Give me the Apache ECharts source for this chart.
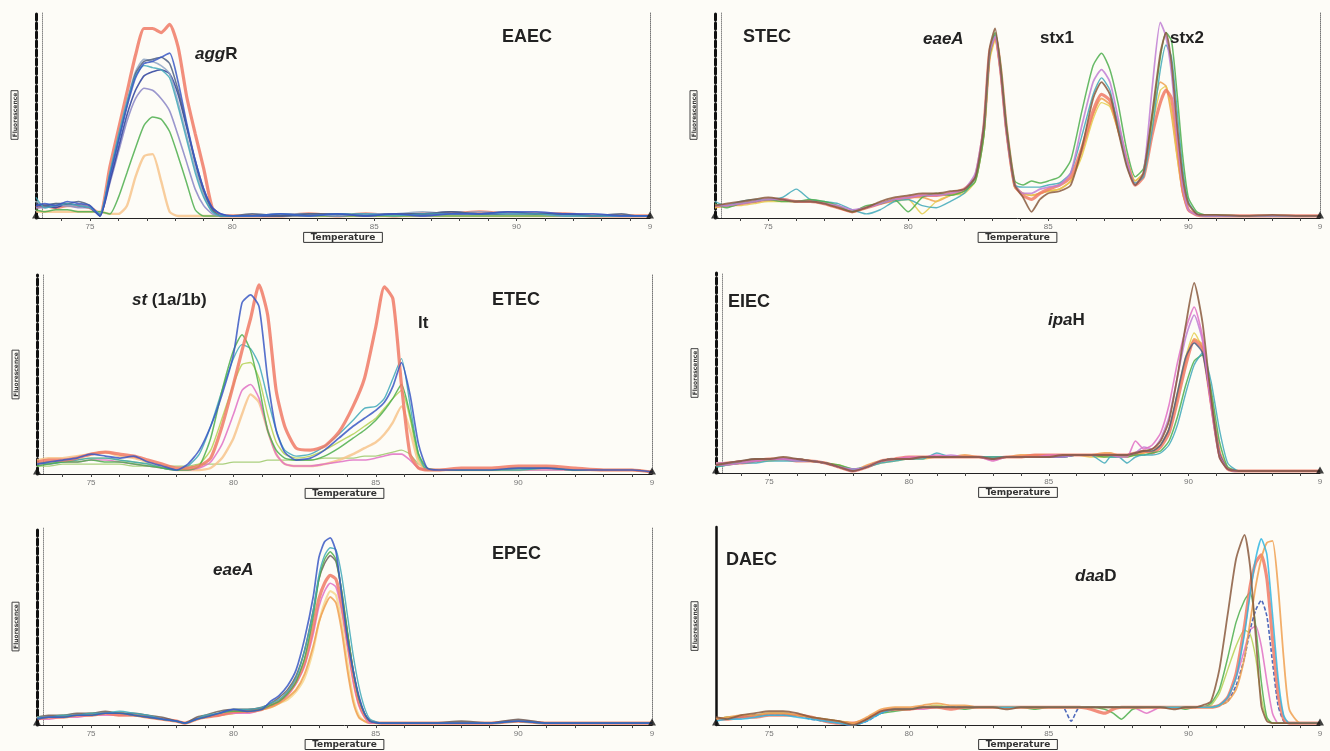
<!DOCTYPE html>
<html>
<head>
<meta charset="utf-8">
<script src="https://cdn.jsdelivr.net/npm/echarts@6/dist/echarts.min.js"></script>
<style>
html, body { margin: 0; background: #fdfcf7; }
#chart { width: 1330px; height: 751px; }
</style>
</head>
<body>
<div id="chart"></div>
<script>
// axis range and ticks (temperature, deg C)
var xMin = 73.1, xMax = 94.7;
var minorTicks = [74, 75, 76, 77, 78, 79, 80, 81, 82, 83, 84, 85, 86, 87, 88, 89, 90, 91, 92, 93, 94];
var tickLabels = [75, 80, 85, 90];
var endLabel = '9';

// EAEC - aggR
var eaecTemps = [73.1, 73.4, 73.8, 74.2, 74.6, 75.0, 75.35, 75.7, 76.0, 76.3, 76.6, 76.9, 77.2, 77.5, 77.8, 78.1, 78.4, 78.7, 79.0, 79.3, 79.6, 80.0, 80.7, 81.7, 82.7, 83.7, 84.7, 85.7, 86.7, 87.7, 88.7, 89.7, 90.7, 91.7, 92.7, 93.7, 94.2, 94.7];
var eaecRed = [5,6,5,6,6,5,2, 25,43,61,79,92,92,90,94,83,59,41,24,5,1,1, 1,1,2,1,2,1,2,2,3,2,2,2,1,1,1,1];
var eaecBlue = [6,7,6,8,7,6,1, 20,37,54,68,75,76,78,80,66,46,28,14,5,2,1, 1,2,1,2,1,2,1,2,2,3,3,2,2,1,1,1];
var eaecSlate = [7,6,7,7,8,6,1, 21,38,55,70,76,77,78,75,62,45,27,13,4,1,1, 2,1,2,2,1,2,2,3,2,3,2,2,1,2,1,1];
var eaecGreyBlue = [8,6,7,6,6,5,2, 22,40,57,71,77,76,74,70,56,40,24,11,3,1,1, 1,2,2,1,2,2,3,2,3,2,2,1,1,1,1,1];
var eaecNavy = [6,6,5,7,6,5,1, 18,34,50,62,69,71,72,70,60,44,28,14,5,2,1, 1,1,2,1,2,2,2,3,2,2,2,2,1,1,1,1];
var eaecLavender = [5,5,6,6,5,5,1, 17,32,47,58,63,62,58,52,40,27,14,6,2,1,1, 1,1,1,2,1,2,1,2,2,2,2,1,1,1,1,1];
var eaecTeal = [10,5,6,7,6,5,2, 22,40,56,69,74,73,72,68,54,38,22,10,3,1,1, 1,2,1,2,2,1,2,2,2,2,2,1,1,1,1,1];
var eaecGreen = [4,3,4,4,3,3,3, 2,10,22,34,45,49,48,42,30,17,4,1,1,1,1, 1,1,1,1,1,1,1,1,1,1,1,1,1,1,1,1];
var eaecOrange = [3,3,3,3,3,3,3, 2,2,6,20,30,31,18,3,1,1,1,1,1,1,1, 1,1,1,1,1,1,1,1,1,1,1,1,1,1,1,1];

// STEC - eaeA, stx1, stx2
var stecTemps = [73.1, 73.5, 74, 74.5, 75, 75.5, 76, 76.5, 77, 77.5, 78, 78.5, 79, 79.5, 80, 80.5, 81, 81.5, 82, 82.4, 82.7, 82.9, 83.1, 83.3, 83.5, 83.8, 84.1, 84.4, 84.7, 85.0, 85.4, 85.8, 86.2, 86.6, 86.9, 87.2, 87.5, 87.8, 88.1, 88.4, 88.7, 89.0, 89.2, 89.4, 89.6, 89.8, 90.0, 90.3, 90.6, 91, 92, 93, 94, 94.7];
var stecBrown = [6,7,8,9,10,9,8,8,7,5,3,5,8,10,11,12,12,13,14, 20,45,82,92,72,44,16,10,3,9,12, 13,16,34,58,66,60,42,25,16,22,50, 80,90,75,45,20,7,2,1.5,1.5,1,1.5,1,1];
var stecGreen = [7,5,7,8,9,8,8,9,8,6,3,6,7,9,3,10,12,11,13, 18,40,78,90,74,46,18,16,18,17,18, 20,28,52,74,80,72,55,33,20,24,48, 78,90,86,60,30,10,3,1.5,1.5,1,1,1,1];
var stecTeal = [8,6,8,9,9,10,14,9,8,7,4,2,4,8,9,6,5,8,12, 20,44,80,89,72,44,16,15,15,15,16, 17,22,40,60,68,62,44,26,17,20,42, 72,84,78,52,24,8,2,1,1,1,1,1,1];
var stecPurple = [6,6,7,8,9,9,8,8,7,6,4,5,7,9,10,11,11,12,14, 22,46,80,88,70,42,16,12,12,14,15, 16,22,45,66,72,66,48,28,16,22,62, 95,88,70,40,15,4,1.5,1,1,1,1,1,1];
var stecOrange = [5,6,7,8,9,9,8,8,7,5,3,5,7,9,10,10,8,11,13, 20,42,78,87,70,42,15,12,11,12,13, 14,18,32,50,58,55,42,28,18,22,48, 66,64,50,30,12,4,1.5,1,1,1,1,1,1];
var stecRed = [6,6,7,8,9,9,8,8,7,5,3,5,7,9,10,11,11,12,14, 20,44,80,89,72,44,16,11,9,12,14, 16,20,34,52,60,57,44,28,16,20,40, 56,62,58,38,14,4,1.5,1,1,1,1,1,1];
var stecYellow = [5,6,6,7,8,8,8,8,7,5,3,5,7,8,9,2,8,11,12, 18,40,76,86,70,42,15,12,11,12,13, 14,18,30,48,56,54,42,28,18,22,44, 62,64,52,30,12,4,1.5,1,1,1,1,1,1];

// ETEC - st (1a/1b), lt
var etecTemps = [73.1, 73.5, 74, 74.5, 75, 75.5, 76, 76.5, 77, 77.5, 78, 78.4, 78.8, 79.2, 79.6, 80.0, 80.3, 80.6, 80.9, 81.2, 81.5, 81.8, 82.2, 82.7, 83.2, 83.7, 84.2, 84.6, 85.0, 85.3, 85.6, 85.9, 86.2, 86.5, 86.8, 87.2, 88, 89, 90, 91, 92, 93, 94, 94.7];
var etecRed = [6,7,7,8,10,11,10,9,7,5,3, 3,4,8,24,45,62,78,95,80,42,24,13, 12,14,21,34,48,74,94,88,45,10,3,2, 2,3,3,4,4,3,2,2,1];
var etecBlue = [5,6,7,8,10,9,8,9,6,4,2, 5,12,24,40,60,86,90,84,48,22,11,7, 8,12,18,24,28,32,36,44,56,40,15,3, 2,2,2,3,3,2,2,2,1];
var etecGreen = [4,5,6,6,7,6,6,5,4,3,2, 2,4,18,42,62,70,62,44,22,12,8,7, 7,9,13,18,22,27,32,38,45,30,10,3, 2,2,2,3,3,2,2,2,1];
var etecTeal = [6,5,6,7,8,8,7,6,5,3,2, 4,10,24,42,58,65,63,55,38,22,12,9, 10,14,20,27,33,34,38,48,58,35,10,2, 2,2,2,2,3,2,2,2,1];
var etecOrange = [7,8,8,9,10,11,9,8,6,4,2, 2,2,3,8,18,30,40,36,22,10,5,4, 4,5,7,10,13,16,20,26,34,22,6,2, 2,2,2,2,3,2,2,2,1];
var etecPink = [5,5,6,6,7,7,6,5,4,3,2, 2,3,6,15,30,42,45,38,22,10,5,4, 4,5,6,7,7,8,9,10,10,7,3,2, 2,2,2,2,2,2,2,2,1];
var etecFlat = [4,4,5,5,5,5,5,4,4,4,4, 4,5,5,5,6,6,6,6,7,7,7,7, 7,8,8,8,9,9,10,11,12,10,5,3, 2,2,2,2,2,2,2,2,1];
var etecLime = [5,6,6,7,8,8,7,6,5,3,2, 3,5,12,28,45,55,56,48,30,16,10,8, 9,12,16,20,24,28,33,38,42,28,8,2, 2,2,2,2,3,2,2,2,1];

// EIEC - ipaH
var eiecTemps = [73.1, 73.5, 74, 74.5, 75, 75.5, 76, 76.5, 77, 77.5, 78, 78.5, 79, 79.5, 80, 80.5, 81, 81.5, 82, 82.5, 83, 83.5, 84, 84.5, 85, 85.5, 86, 86.5, 87, 87.2, 87.5, 87.8, 88.1, 88.4, 88.7, 89.0, 89.3, 89.6, 89.9, 90.2, 90.5, 90.8, 91.1, 91.4, 91.8, 92.4, 93, 93.5, 94, 94.7];
var eiecBrown = [4,5,6,7,7,8,7,6,5,3,1,3,6,7,7,8,8,8,8,8,7,8,8,8,8,9,9,9,9,9,9, 9,10,11,12,16,26,48,74,95,75,38,8,2,1,1,1,1,1,1];
var eiecPink = [4,4,5,6,7,7,7,6,5,3,1,3,6,7,8,8,9,8,8,8,6,8,8,8,9,9,9,9,9,9,8, 8,16,12,14,20,34,55,72,83,68,34,8,2,1,1,1,1,1,1];
var eiecPurple = [5,5,6,6,7,7,6,6,5,3,2,3,6,7,7,8,8,9,8,8,7,8,8,8,8,8,9,9,9,9,9, 9,10,13,12,17,28,48,68,79,66,35,9,2,1,1,1,1,1,1];
var eiecYellow = [4,4,5,6,6,7,7,6,5,4,2,3,5,6,7,7,8,8,8,8,8,8,8,8,8,9,9,8,8,9,9, 8,9,10,11,14,22,40,58,70,62,34,9,2,1,1,1,1,1,1];
var eiecOrange = [5,5,6,6,7,7,7,6,5,3,1,4,6,7,7,8,8,8,9,8,8,8,9,9,9,9,9,9,10,10,9, 9,9,10,12,14,22,38,56,67,64,38,11,2,1,1,1,1,1,1];
var eiecRed = [4,5,5,6,7,7,6,6,5,3,1,3,6,7,8,8,8,8,8,8,7,8,8,9,9,9,9,9,9,9,9, 9,10,11,10,13,20,36,54,66,62,36,10,2,1,1,1,1,1,1];
var eiecGreen = [3,4,5,6,7,7,7,6,5,4,2,3,6,7,7,8,8,8,8,8,8,8,8,8,8,8,9,9,8,8,8, 8,9,9,10,11,16,28,44,56,59,42,16,3,1,1,1,1,1,1];
var eiecTeal = [3,4,5,5,6,6,6,6,5,3,2,3,5,6,7,7,10,8,8,8,8,8,8,8,8,8,9,9,5,8,8, 5,8,9,9,10,14,24,40,54,60,46,22,5,1,1,1,1,1,1];
var eiecSlate = [4,5,6,7,7,7,7,6,5,3,1,3,6,7,7,8,8,8,8,8,7,8,8,8,8,8,9,9,9,9,9, 9,10,11,11,14,22,40,58,65,60,36,10,2,1,1,1,1,1,1];

// EPEC - eaeA
var epecTemps = [73.1, 73.5, 74, 74.5, 75, 75.5, 76, 76.5, 77, 77.5, 78, 78.3, 78.7, 79, 79.5, 80, 80.5, 81, 81.3, 81.6, 81.9, 82.2, 82.5, 82.8, 83.0, 83.2, 83.4, 83.6, 83.8, 84.0, 84.2, 84.4, 84.6, 84.8, 85.2, 86, 87, 88, 89, 90, 91, 92, 93, 94, 94.7];
var epecBlue = [3,4,4,5,5,6,6,5,4,3,2,1,3,4,6,8,7,8, 12,15,20,28,44,65,85,93,95,88,66,44,28,15,6,2, 1,1,1,1,1,2,1,1,1,1,1];
var epecTeal = [4,4,5,5,6,6,7,6,5,3,2,1,3,5,6,8,8,9, 11,13,17,24,38,58,76,86,90,89,76,56,36,20,9,3, 1,1,1,1,1,2,1,1,1,1,1];
var epecGreen = [3,4,4,5,5,6,6,5,4,3,2,1,3,4,6,7,7,8, 10,12,16,22,34,55,74,84,88,84,68,48,28,14,6,2, 1,1,1,1,1,2,1,1,1,1,1];
var epecTaupe = [4,5,5,6,6,7,6,6,5,4,2,1,4,5,7,8,8,9, 11,14,18,25,38,58,74,82,86,83,68,47,28,14,6,2, 1,1,1,2,1,3,1,1,1,1,1];
var epecRed = [3,4,4,5,5,6,5,5,4,3,2,1,3,4,5,7,7,8, 10,12,16,22,32,50,64,72,76,74,62,44,26,12,5,2, 1,1,1,1,1,2,1,1,1,1,1];
var epecPink = [3,3,4,4,5,5,5,5,4,3,2,1,3,4,5,6,6,8, 10,12,15,21,30,46,60,68,72,70,58,40,22,10,4,1, 1,1,1,1,1,2,1,1,1,1,1];
var epecOrange = [3,4,4,5,5,6,6,5,4,3,2,1,3,4,5,6,7,8, 9,11,14,18,26,40,52,60,65,62,48,28,12,4,2,1, 1,1,1,1,1,2,1,1,1,1,1];
var epecPale = [4,4,5,5,6,6,6,5,4,3,2,1,3,4,5,6,7,8, 9,11,13,17,24,38,52,62,68,66,52,32,14,5,2,1, 1,1,1,1,1,2,1,1,1,1,1];

// DAEC - daaD
var daecTemps = [73.1, 73.5, 74, 74.5, 75, 75.5, 76, 76.5, 77, 77.5, 78, 78.5, 79, 79.5, 80, 80.5, 81, 81.5, 82, 82.5, 83, 83.5, 84, 84.5, 85, 85.5, 85.8, 86.1, 86.5, 87, 87.3, 87.6, 88, 88.5, 89, 89.5, 89.9, 90.2, 90.5, 90.8, 91.1, 91.4, 91.7, 92.0, 92.2, 92.4, 92.6, 92.8, 93.0, 93.2, 93.4, 93.6, 94.0, 94.7];
var daecBrown = [4,3,5,6,7,7,6,4,3,2,0,3,7,8,8,9,9,9,9,9,9,8,9,9,9,9,9,9,9,9,9,9,9,9,9,8,9,9,10, 12,28,56,84,96,80,45,10,2,1,1,1,1,1,1];
var daecGreen = [3,4,4,5,5,5,5,4,3,2,1,3,6,7,8,9,9,9,8,9,9,9,9,8,9,9,9,9,9,8,6,3,8,9,9,9,8,9,9, 11,18,34,52,63,67,50,22,4,1,1,1,1,1,1];
var daecCyan = [2,3,3,4,5,5,4,3,2,1,0,2,6,8,8,9,9,9,9,9,9,9,9,9,9,9,9,9,9,9,9,9,9,9,9,9,9,9,9, 9,10,14,24,46,66,84,94,86,56,24,5,1,1,1];
var daecRed = [3,3,4,4,5,5,5,4,2,1,1,3,7,8,8,9,9,8,9,9,9,9,9,9,9,9,9,9,8,6,8,9,9,9,9,9,9,9,9, 9,10,14,26,50,70,82,86,74,44,16,3,1,1,1];
var daecOrange = [3,4,5,5,6,6,5,4,3,2,1,4,8,9,9,10,11,10,10,9,9,9,9,9,9,9,9,9,9,9,9,9,9,9,9,9,9,9,9, 9,10,12,18,34,52,70,84,92,93,70,34,8,1,1];
var daecPink = [3,3,4,5,5,5,5,4,2,1,0,3,7,8,8,8,9,9,9,9,9,9,9,9,9,9,9,9,9,9,9,9,9,6,9,9,9,9,9, 9,10,14,24,38,48,50,40,22,6,1,1,1,1,1];
var daecBlue = [3,3,4,5,5,5,5,3,2,1,0,2,6,8,8,9,9,9,9,9,9,9,9,9,9,9,2,9,9,9,9,9,9,9,9,9,9,9,9, 9,10,12,20,34,48,58,63,55,32,10,2,1,1,1];
var daecLime = [3,4,4,5,6,6,5,4,3,2,1,3,7,8,8,9,10,9,9,9,9,9,9,9,9,9,9,9,9,9,9,9,9,9,9,9,9,9,9, 10,16,28,40,48,46,34,14,3,1,1,1,1,1,1];

// line colours and widths
var palette = {
    red: ['#f07a66', 3.2],
    blue: ['#3a58c4', 1.7],
    slate: ['#4e5f80', 1.6],
    greyblue: ['#8ea4c4', 1.6],
    navy: ['#2b3f9c', 1.6],
    lavender: ['#8985c6', 1.6],
    teal: ['#3ea8b8', 1.4],
    green: ['#4cae4c', 1.5],
    lightorange: ['#f7c48c', 2.4],
    orange: ['#f0a050', 1.8],
    purple: ['#c07ed4', 1.7],
    pink: ['#e070c4', 1.6],
    brown: ['#8a5a3e', 1.8],
    yellow: ['#e4cd4a', 1.4],
    cyan: ['#30b6e2', 1.6],
    lime: ['#b4d152', 1.4],
    olive: ['#9cc86a', 1.2],
    taupe: ['#6d5f5a', 1.6],
    pale: ['#f6d68e', 2.2],
    dashblue: ['#3050b0', 1.6, [4, 2]]
};

var panels = [
    {box: [36, 12, 614, 206], temps: eaecTemps, yAxis: 'dashed', rightEdge: true,
     lines: [[eaecRed, 'red'], [eaecOrange, 'lightorange'], [eaecGreen, 'green'], [eaecLavender, 'lavender'], [eaecNavy, 'navy'],
             [eaecGreyBlue, 'greyblue'], [eaecSlate, 'slate'], [eaecTeal, 'teal'], [eaecBlue, 'blue']]},
    {box: [715, 12, 605, 206], temps: stecTemps, yAxis: 'dashed', rightEdge: true,
     lines: [[stecOrange, 'orange'], [stecYellow, 'yellow'], [stecRed, 'red'], [stecTeal, 'teal'], [stecGreen, 'green'],
             [stecPurple, 'purple'], [stecBrown, 'brown']]},
    {box: [37, 275, 615, 199], temps: etecTemps, yAxis: 'dashed', rightEdge: true,
     lines: [[etecFlat, 'olive'], [etecOrange, 'lightorange'], [etecPink, 'pink'], [etecLime, 'lime'], [etecTeal, 'teal'],
             [etecGreen, 'green'], [etecRed, 'red'], [etecBlue, 'blue']]},
    {box: [716, 273, 604, 200], temps: eiecTemps, yAxis: 'dashed', rightEdge: false,
     lines: [[eiecYellow, 'yellow'], [eiecOrange, 'orange'], [eiecRed, 'red'], [eiecGreen, 'green'], [eiecTeal, 'teal'],
             [eiecSlate, 'slate'], [eiecPurple, 'purple'], [eiecPink, 'pink'], [eiecBrown, 'brown']]},
    {box: [37, 528, 615, 207], temps: epecTemps, yAxis: 'dashed', rightEdge: true,
     lines: [[epecPale, 'pale'], [epecOrange, 'orange'], [epecPink, 'pink'], [epecRed, 'red'], [epecTaupe, 'taupe'],
             [epecGreen, 'green'], [epecTeal, 'teal'], [epecBlue, 'blue']]},
    {box: [716, 527, 604, 201], temps: daecTemps, yAxis: 'solid', rightEdge: false,
     lines: [[daecLime, 'lime'], [daecPink, 'pink'], [daecGreen, 'green'], [daecBlue, 'dashblue'], [daecRed, 'red'],
             [daecOrange, 'orange'], [daecCyan, 'cyan'], [daecBrown, 'brown']]}
];

// panel captions: text, left x, centre y, kind
var notes = [
    ['EAEC', 502, 37, 'org'], ['{i|agg}{b|R}', 195, 54, 'gene'],
    ['STEC', 743, 37, 'org'], ['{i|eaeA}', 923, 39, 'gene'], ['{b|stx1}', 1040, 38, 'gene'], ['{b|stx2}', 1170, 38, 'gene'],
    ['{i|st}{b| (1a/1b)}', 132, 300, 'gene'], ['ETEC', 492, 300, 'org'], ['{b|lt}', 418, 323, 'gene'],
    ['EIEC', 728, 302, 'org'], ['{i|ipa}{b|H}', 1048, 320, 'gene'],
    ['{i|eaeA}', 213, 570, 'gene'], ['EPEC', 492, 554, 'org'],
    ['DAEC', 726, 560, 'org'], ['{i|daa}{b|D}', 1075, 576, 'gene']
];

var chart = echarts.init(document.getElementById('chart'));
var font = 'Liberation Sans, Arial, sans-serif';
var grids = [], xAxes = [], yAxes = [], series = [];

panels.forEach(function (p, i) {
    grids.push({left: p.box[0], top: p.box[1], width: p.box[2], height: p.box[3]});
    xAxes.push({
        type: 'value', gridIndex: i, min: xMin, max: xMax,
        name: 'Temperature', nameLocation: 'middle', nameGap: 14,
        nameTextStyle: {fontSize: 9, fontWeight: 'bold', color: '#333', fontFamily: 'DejaVu Sans', lineHeight: 9,
                        borderColor: '#333', borderWidth: 1, padding: [1, 7, 0, 7]},
        axisLine: {lineStyle: {color: '#222', width: 1}},
        axisTick: {customValues: minorTicks, length: 3, lineStyle: {color: '#444'}},
        axisLabel: {customValues: tickLabels.concat([xMax]), fontSize: 8, color: '#777', margin: 5,
                    formatter: function (v) { return v >= xMax - 0.01 ? endLabel : String(v); }},
        splitLine: {show: false}
    });
    var yi = yAxes.length;
    yAxes.push({
        type: 'value', gridIndex: i, min: 0, max: 100,
        name: 'Fluorescence', nameLocation: 'middle', nameRotate: 90, nameGap: 18,
        nameTextStyle: {fontSize: 6, fontWeight: 'bold', color: '#333', fontFamily: 'DejaVu Sans',
                        borderColor: '#444', borderWidth: 1, padding: [1, 2, 0, 2]},
        axisLine: {show: true, lineStyle: {color: '#111', width: p.yAxis === 'solid' ? 2.5 : 3,
                                            type: p.yAxis === 'solid' ? 'solid' : [6, 3]}},
        axisTick: {show: false}, axisLabel: {show: false}, splitLine: {show: false}
    });
    if (p.yAxis !== 'solid') {
        yAxes.push({
            type: 'value', gridIndex: i, min: 0, max: 100, position: 'left', offset: -6,
            axisLine: {show: true, lineStyle: {color: '#888', width: 1, type: 'dotted'}},
            axisTick: {show: false}, axisLabel: {show: false}, splitLine: {show: false}
        });
    }
    if (p.rightEdge) {
        yAxes.push({
            type: 'value', gridIndex: i, min: 0, max: 100, position: 'right',
            axisLine: {show: true, lineStyle: {color: '#777', width: 1, type: 'dotted'}},
            axisTick: {show: false}, axisLabel: {show: false}, splitLine: {show: false}
        });
    }
    p.lines.forEach(function (ln) {
        var st = palette[ln[1]];
        series.push({
            type: 'line', xAxisIndex: i, yAxisIndex: yi, silent: true,
            data: p.temps.map(function (t, k) { return [t, ln[0][k]]; }),
            showSymbol: false, smooth: 0.2,
            lineStyle: {color: st[0], width: st[1], opacity: 0.85, type: st[2] || 'solid'}
        });
    });
    // axis end markers
    series.push({
        type: 'scatter', xAxisIndex: i, yAxisIndex: yi, silent: true, z: 5,
        data: [[xMin, 0], [xMax, 0]], symbol: 'triangle', symbolSize: [8, 7], symbolOffset: [0, -3],
        itemStyle: {color: '#111'}
    });
});

var rich = {
    i: {fontStyle: 'italic', fontWeight: 'bold', fontSize: 17, fontFamily: font, fill: '#222'},
    b: {fontWeight: 'bold', fontSize: 17, fontFamily: font, fill: '#222'}
};
var graphics = notes.map(function (n) {
    var org = n[3] === 'org';
    return {
        type: 'text', x: n[1], y: n[2], silent: true, z: 10,
        style: {
            text: n[0], fill: '#222', fontFamily: font, fontWeight: 'bold', fontSize: org ? 18 : 17,
            verticalAlign: 'middle', align: 'left', rich: org ? undefined : rich
        }
    };
});

chart.setOption({
    backgroundColor: '#fdfcf7',
    animation: false,
    grid: grids,
    xAxis: xAxes,
    yAxis: yAxes,
    series: series,
    graphic: graphics
});
</script>
</body>
</html>
